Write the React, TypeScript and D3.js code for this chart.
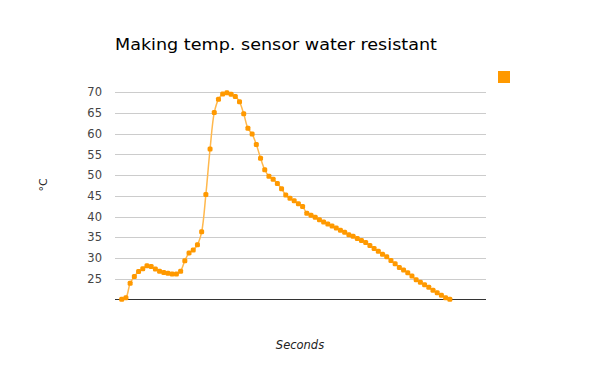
import React from "react";
import * as d3 from "d3";

const title = "Making temp. sensor water resistant";
const xTitle = "Seconds";
const yTitle = "°C";
const yTicks = [25, 30, 35, 40, 45, 50, 55, 60, 65, 70];
const temps = [
  20.0, 20.4, 23.9, 25.5, 26.7, 27.4, 28.1, 27.9, 27.3, 26.8,
  26.5, 26.3, 26.1, 26.1, 26.8, 29.3, 31.2, 31.9, 33.2, 36.3,
  45.3, 56.3, 65.1, 68.3, 69.6, 69.9, 69.5, 69.0, 67.7, 64.8,
  61.3, 59.9, 57.4, 54.1, 51.3, 49.7, 49.0, 48.0, 46.7, 45.2,
  44.4, 43.8, 43.1, 42.4, 40.8, 40.3, 39.8, 39.2, 38.7, 38.2,
  37.7, 37.2, 36.7, 36.2, 35.6, 35.2, 34.7, 34.2, 33.7, 33.0,
  32.3, 31.6, 30.9, 30.3, 29.4, 28.6, 27.7, 27.1, 26.4, 25.6,
  24.7, 24.1, 23.5, 22.9, 22.2, 21.6, 21.0, 20.4, 20.0,
];
const xDomain = [-1.6, 86.6];
const yDomain = [20, 70];

export default function App() {
  const W = 600, H = 371;
  const left = 115, right = 486, top = 92.3, bottom = 299.3;
  const x = d3.scaleLinear().domain(xDomain).range([left, right]);
  const y = d3.scaleLinear().domain(yDomain).range([bottom, top]);
  const data = temps.map((v, i) => [i, v] as [number, number]);
  const line = d3
    .line<[number, number]>()
    .x((d) => x(d[0]))
    .y((d) => y(d[1]))
    .curve(d3.curveCatmullRom.alpha(0.5));
  const font = "Verdana, 'DejaVu Sans', sans-serif";
  return (
    <svg
      width={W}
      height={H}
      style={{ position: "absolute", left: 0, top: 0, background: "#fff" }}
      fontFamily={font}
    >
      <text x={115} y={50} fontSize={15.5} fill="#000" textLength={322} lengthAdjust="spacingAndGlyphs">
        {title}
      </text>
      {yTicks.map((t) => {
        const yy = Math.round(y(t)) + 0.5;
        return (
          <g key={t}>
            <line x1={left} x2={right} y1={yy} y2={yy} stroke="#cccccc" strokeWidth={1} />
            <text x={102} y={y(t)} dy="0.36em" fontSize={11.5} fill="#444" textAnchor="end">
              {t}
            </text>
          </g>
        );
      })}
      <line x1={left} x2={right} y1={Math.round(bottom) + 0.5} y2={Math.round(bottom) + 0.5} stroke="#333" strokeWidth={1} />
      <text
        transform={`translate(47,185) rotate(-90)`}
        fontSize={11}
        fill="#222"
        textAnchor="middle"
      >
        {yTitle}
      </text>
      <text x={300} y={349} fontSize={11.5} fontStyle="italic" fill="#222" textAnchor="middle">
        {xTitle}
      </text>
      <path d={line(data) || ""} fill="none" stroke="#ffb84d" strokeWidth={1.5} />
      {data.map((d, i) => (
        <rect key={i} x={x(d[0]) - 2.5} y={y(d[1]) - 2.5} width={5} height={5} rx={1.5} fill="#ff9900" />
      ))}
      <rect x={498} y={71} width={12} height={12} fill="#ff9900" />
    </svg>
  );
}
